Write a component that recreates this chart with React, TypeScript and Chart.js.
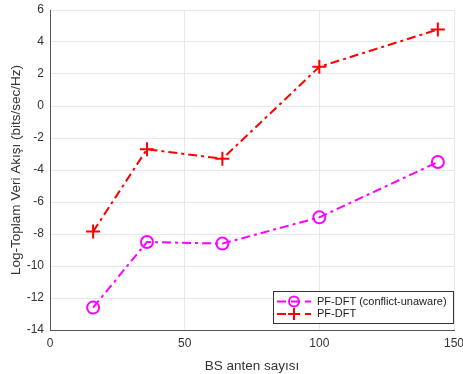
import React, { useEffect, useRef } from "react";
import { Chart, registerables } from "chart.js";

Chart.register(...registerables);

const xValues = [16, 36, 64, 100, 144];
const unawareValues = [-12.6, -8.5, -8.6, -6.96, -3.5];
const pfdftValues = [-7.85, -2.7, -3.3, 2.45, 4.78];
const seriesLabels = ["PF-DFT (conflict-unaware)", "PF-DFT"];
const xTitle = "BS anten sayısı";
const yTitle = "Log-Toplam Veri Akışı (bits/sec/Hz)";

const FONT = "'Liberation Sans', Arial, Helvetica, sans-serif";
const TXT = "#333333";

const legendPlugin = {
  id: "insideLegend",
  afterDraw(chart: any) {
    const { ctx, chartArea } = chart;
    const right = chartArea.right - 1;
    const bottom = chartArea.bottom - 7;
    const w = 180;
    const h = 32;
    const left = right - w;
    const top = bottom - h;
    ctx.save();
    ctx.fillStyle = "#ffffff";
    ctx.fillRect(left, top, w, h);
    ctx.strokeStyle = TXT;
    ctx.lineWidth = 1;
    ctx.strokeRect(left + 0.5, top + 0.5, w, h);
    chart.data.datasets.forEach((ds: any, i: number) => {
      const y = top + 10.5 + i * 12.5;
      ctx.strokeStyle = ds.borderColor;
      ctx.lineWidth = 2;
      ctx.setLineDash([9, 5]);
      ctx.beginPath();
      ctx.moveTo(left + 4, y);
      ctx.lineTo(left + 38, y);
      ctx.stroke();
      ctx.setLineDash([]);
      const mx = left + 21;
      ctx.strokeStyle = ds.pointBorderColor;
      ctx.lineWidth = 2;
      ctx.beginPath();
      if (ds.pointStyle === "circle") {
        ctx.arc(mx, y, 5, 0, Math.PI * 2);
      } else {
        ctx.moveTo(mx - 6, y);
        ctx.lineTo(mx + 6, y);
        ctx.moveTo(mx, y - 6);
        ctx.lineTo(mx, y + 6);
      }
      ctx.stroke();
      ctx.fillStyle = "#222222";
      ctx.font = `11px ${FONT}`;
      ctx.textAlign = "left";
      ctx.textBaseline = "middle";
      ctx.fillText(ds.label, left + 44, y);
    });
    ctx.restore();
  },
};

export default function App() {
  const ref = useRef<HTMLCanvasElement>(null);
  useEffect(() => {
    const chart = new Chart(ref.current!, {
      type: "line",
      data: {
        datasets: [
          {
            label: seriesLabels[0],
            data: xValues.map((x, i) => ({ x, y: unawareValues[i] })),
            borderColor: "#ff00ff",
            pointBorderColor: "#ff00ff",
            pointBackgroundColor: "rgba(0,0,0,0)",
            borderWidth: 2,
            borderDash: [9, 4, 3, 4],
            pointStyle: "circle",
            pointRadius: 6,
            pointBorderWidth: 2,
            tension: 0,
          },
          {
            label: seriesLabels[1],
            data: xValues.map((x, i) => ({ x, y: pfdftValues[i] })),
            borderColor: "#ff0000",
            pointBorderColor: "#ff0000",
            pointBackgroundColor: "#ff0000",
            borderWidth: 2,
            borderDash: [9, 4, 3, 4],
            pointStyle: "cross",
            pointRadius: 7,
            pointBorderWidth: 2,
            tension: 0,
          },
        ],
      },
      options: {
        animation: false,
        responsive: false,
        layout: { padding: { top: 10, right: 9, left: 0, bottom: 0 } },
        plugins: { legend: { display: false }, tooltip: { enabled: false } },
        scales: {
          x: {
            type: "linear",
            min: 0,
            max: 150,
            ticks: { stepSize: 50, color: TXT, font: { family: FONT, size: 12 }, padding: 6, maxRotation: 0 },
            grid: { color: "#e8e8e8", drawTicks: false },
            border: { color: "#555555", width: 1 },
            title: { display: true, text: xTitle, color: TXT, font: { family: FONT, size: 13.5 }, padding: { top: 4, bottom: 0 } },
            afterFit(s: any) {
              s.height = 44;
              s.paddingRight = 9;
              s.paddingLeft = 0;
            },
          },
          y: {
            type: "linear",
            min: -14,
            max: 6,
            ticks: { stepSize: 2, color: TXT, font: { family: FONT, size: 12 }, padding: 6 },
            grid: { color: "#e8e8e8", drawTicks: false },
            border: { color: "#555555", width: 1 },
            title: { display: true, text: yTitle, color: TXT, font: { family: FONT, size: 13.5 }, padding: { top: 8, bottom: 0 } },
            afterFit(s: any) {
              s.width = 50;
              s.paddingTop = 0;
              s.paddingBottom = 0;
            },
          },
        },
      },
      plugins: [legendPlugin],
    } as any);
    return () => chart.destroy();
  }, []);
  return (
    <div style={{ position: "fixed", left: 0, top: 0, width: 463, height: 374, background: "#fff" }}>
      <canvas ref={ref} width={463} height={374} style={{ display: "block" }} />
    </div>
  );
}
